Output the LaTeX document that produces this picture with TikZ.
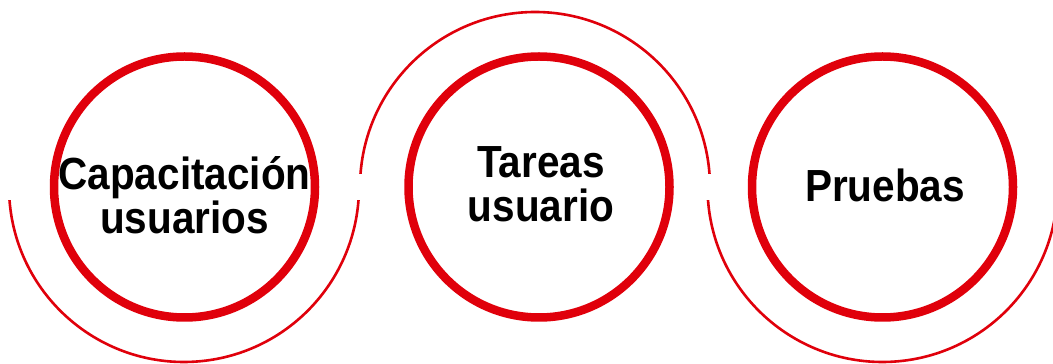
\documentclass[tikz,border=0pt]{standalone}
\usepackage{fontspec}
\newfontfamily\lblfont[FakeStretch=0.9]{Liberation Sans}
\definecolor{mred}{RGB}{224,0,11}
\begin{document}
\begin{tikzpicture}[x=1pt,y=1pt,
  ring/.style={circle,draw=mred,line width=8.5pt,minimum size=261pt,inner sep=0pt},
  thinarc/.style={draw=mred,line width=2.6pt},
  lbl/.style={align=center,inner sep=0pt,font=\lblfont\bfseries\fontsize{45}{44}\selectfont,text=black}]
\clip (0,0) rectangle (1053,364);
\fill[white] (0,0) rectangle (1053,364);
% thick rings
\node[ring] (c1) at (184.5,177) {};
\node[ring] (c2) at (539,177) {};
\node[ring] (c3) at (882.5,177) {};
% thin arcs
\coordinate (a1) at (184,177);
\coordinate (a2) at (535,177);
\coordinate (a3) at (882.5,177);
\draw[thinarc] ([shift={(184.3:175)}]a1) arc[start angle=184.3,end angle=355.7,radius=175];
\draw[thinarc] ([shift={(4.3:175)}]a2) arc[start angle=4.3,end angle=175.7,radius=175];
\draw[thinarc] ([shift={(184.3:175)}]a3) arc[start angle=184.3,end angle=360,radius=175];
% labels
\node[lbl] (t1) at (184.5,169) {Capacitación\\usuarios};
\node[lbl] (t2) at (541,180) {Tareas\\usuario};
\node[lbl] (t3) at (885,179) {Pruebas};
\end{tikzpicture}
\end{document}
